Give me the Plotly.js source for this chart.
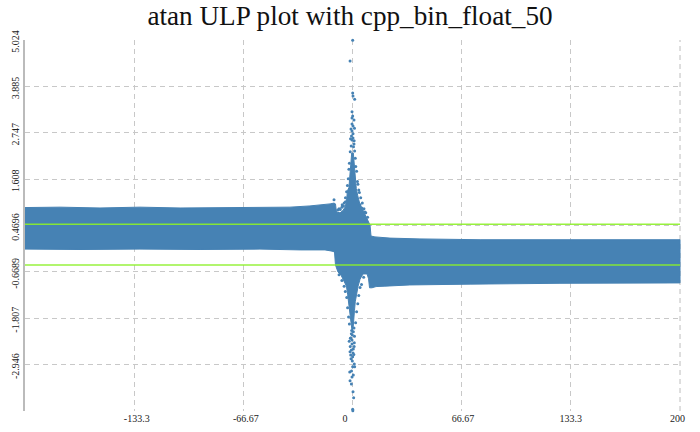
<!DOCTYPE html>
<html>
<head>
<meta charset="utf-8">
<script src="https://cdn.plot.ly/plotly-3.0.1.min.js"></script>
<style>html,body{margin:0;padding:0;background:#fff}</style>
</head>
<body>
<div id="chart" style="width:700px;height:432px"></div>
<script>
const titleText = 'atan ULP plot with cpp_bin_float_50';
const xTickVals = [-133.3, -66.67, 0, 66.67, 133.3, 200];
const xTickText = ['\u00A0\u00A0-133.3', '\u00A0\u00A0-66.67', '0\u00A0\u00A0\u00A0\u00A0\u00A0\u00A0', '\u00A066.67', '133.3', '200\u00A0\u00A0'];
const yTickVals = [5.024, 3.885, 2.747, 1.608, 0.4696, -0.6689, -1.807, -2.946];
const yTickText = ['5.024', '3.885', '2.747', '1.608', '0.4696', '-0.6689', '-1.807', '-2.946'];

const upperX = [-200,-178.6,-154.2,-129.8,-105.3,-80.9,-56.5,-38.2,-26,-19.8,-13.7,-11.3,-10.4,-9.8,-7.6,-5.8,-4.6,-3.7,-3.1,-2.2,-1.6,-1.1,-0.5,0.5,1.2,1.6,2.3,3.2,4.6,5.8,7.6,8.9,10.1,10.7,11.3,13.7,22.9,41.2,77.9,126.7,175.6,200];
const upperY = [0.91,0.92,0.90,0.92,0.90,0.91,0.91,0.92,0.95,0.97,1.0,1.02,1.0,0.80,0.78,0.84,0.92,1.05,1.32,1.40,1.72,1.95,2.25,2.25,1.85,1.65,1.38,1.20,0.98,0.90,0.76,0.66,0.56,0.48,0.21,0.19,0.16,0.14,0.12,0.12,0.11,0.12];
const lowerX = [-200,-166.4,-129.8,-93.1,-56.5,-32,-16.8,-12.5,-11,-10.4,-8.9,-7,-5.8,-4.6,-3.7,-3.0,-2.4,-1.6,-0.9,-0.4,0.3,0.8,1.2,1.7,2.4,3.4,4.6,6.4,8.9,9.8,10.4,11.9,14.4,19.8,35,71.8,126.7,175.6,200];
const lowerY = [-0.11,-0.12,-0.11,-0.12,-0.11,-0.13,-0.13,-0.16,-0.18,-0.50,-0.67,-0.75,-0.82,-0.95,-1.02,-1.22,-1.42,-1.62,-1.88,-2.08,-2.08,-1.90,-1.62,-1.40,-1.20,-1.02,-0.85,-0.72,-0.72,-0.84,-1.06,-1.06,-1.03,-1.02,-0.99,-0.97,-0.95,-0.94,-0.94];

const spikeX = [0.1,-1.5,0.1,0.3,1.3,-0.3,0.1,-0.3,0.9,-0.3,0.3,1.2,-0.9,-0.3,0.3,-0.6,0.3,-0.3,0.9,0.6,
  -1.2,1.0,-0.8,1.3,-1.4,1.7,-1.9,2.0,-2.2,2.5,-2.6,3.0,-3.1,3.3,-3.6,4.2,-4.3,5.0,-5.1,6.0,7.0,8.1,-6.3,-8.2,-9,9.2,
  -11.3,5.6,4.6,7.6,-4.3,-5.5,-6.5,-7.5,3.8,
  0.1,0.2,0.3,0.7,-0.7,-1.5,-0.3,-1.7,0.1,1.3,-0.1,0.1,-1.1,0.3,-1.5,-0.7,0.5,-2,-0.3,1.1,-0.3,-1.1,-0.1,-0.7,0.5,-0.5,0.9,
  -1.9,1.9,-2.4,2.5,-3,3.2,-3.5,3.8,-4.4,4.6,-5.1,5.5,-6.5,6.8,-8.2,1.2,-1.3,1.0,-1.4,0.8,-0.9,1.1,-0.6,0.5];
const spikeY = [5.02,4.51,3.72,3.65,3.57,3.26,3.16,3.11,3.06,2.96,2.91,2.86,2.84,2.79,2.72,2.67,2.62,2.57,2.47,2.40,
  2.6,2.55,2.42,2.30,2.28,2.12,2.0,1.92,1.85,1.80,1.62,1.55,1.45,1.48,1.30,1.28,1.15,1.15,1.02,1.02,0.88,0.78,0.98,0.88,0.85,0.67,
  1.10,0.90,0.98,0.80,1.05,0.95,0.92,0.86,1.34,
  -4.04,-4.08,-3.61,-3.76,-3.42,-3.34,-3.25,-3.13,-3.00,-3.00,-2.86,-2.75,-2.71,-2.66,-2.63,-2.59,-2.56,-2.37,-2.34,-2.41,-2.44,-2.29,-2.22,-2.19,-2.14,-2.11,-2.05,
  -1.95,-1.92,-1.78,-1.65,-1.55,-1.45,-1.3,-1.25,-1.15,-1.05,-1.02,-0.98,-0.88,-0.8,-0.74,-2.25,-2.3,-2.5,-2.5,-2.7,-2.8,-2.93,-3.1,-3.2];

const refLineX = [-200, 200];
const upperRef = [0.5, 0.5];
const lowerRef = [-0.5, -0.5];
const edgeGridX = [200, 200];
const edgeGridY = [-4.085, 5.024];

const blue = '#4682b4';
const green = 'rgba(140,240,40,0.9)';
const gridColor = '#c8c8c8';
const traces = [
  {x: edgeGridX, y: edgeGridY, mode: 'lines', line: {color: gridColor, width: 1.2, dash: '5px,4px'}, cliponaxis: false},
  {x: upperX.concat(lowerX.slice().reverse()), y: upperY.concat(lowerY.slice().reverse()),
   mode: 'lines', fill: 'toself', fillcolor: blue, line: {color: blue, width: 1}, hoverinfo: 'skip'},
  {x: spikeX, y: spikeY, mode: 'markers', marker: {color: blue, size: 3}, cliponaxis: false},
  {x: refLineX, y: upperRef, mode: 'lines', line: {color: green, width: 1.4}},
  {x: refLineX, y: lowerRef, mode: 'lines', line: {color: green, width: 1.4}}
];
const tickFont = {family: '"Liberation Serif", serif', size: 10, color: '#222'};
const layout = {
  width: 700, height: 432,
  margin: {l: 25, r: 19, t: 40, b: 21, pad: 0},
  paper_bgcolor: '#fff', plot_bgcolor: '#fff',
  showlegend: false,
  title: {text: titleText, x: 0.5, xanchor: 'center', y: 0.965, yanchor: 'middle',
          font: {family: '"Liberation Serif", serif', size: 27.2, color: '#111'}},
  xaxis: {range: [-200, 200.6], tickmode: 'array', tickvals: xTickVals, ticktext: xTickText,
          tickangle: 0, ticks: '', showline: false, zeroline: false, showgrid: true,
          gridcolor: gridColor, griddash: '5px,4px', gridwidth: 1, tickfont: tickFont,
          ticklabeloverflow: 'allow'},
  yaxis: {range: [-4.085, 5.024], tickmode: 'array', tickvals: yTickVals, ticktext: yTickText,
          tickangle: -90, ticks: '', showline: true, linecolor: '#bbbbbb', linewidth: 2,
          zeroline: false, showgrid: true, gridcolor: gridColor, griddash: '5px,4px', gridwidth: 1,
          tickfont: tickFont, ticklabelshift: 3, ticklabeloverflow: 'allow'}
};
Plotly.newPlot('chart', traces, layout, {displayModeBar: false, staticPlot: true});
</script>
</body>
</html>
